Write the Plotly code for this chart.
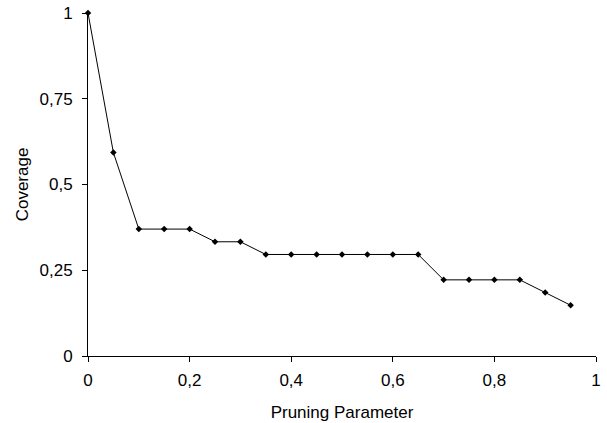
import plotly.graph_objects as go

pruning = [0.0, 0.05, 0.1, 0.15, 0.2, 0.25, 0.3, 0.35, 0.4, 0.45, 0.5,
           0.55, 0.6, 0.65, 0.7, 0.75, 0.8, 0.85, 0.9, 0.95]
coverage = [1.0, 0.593, 0.370, 0.370, 0.370, 0.333, 0.333, 0.296, 0.296, 0.296,
            0.296, 0.296, 0.296, 0.296, 0.222, 0.222, 0.222, 0.222, 0.185, 0.148]
x_ticks = [0, 0.2, 0.4, 0.6, 0.8, 1]
y_ticks = [0, 0.25, 0.5, 0.75, 1]

fig = go.Figure()
fig.add_trace(go.Scatter(
    x=pruning, y=coverage, mode="lines+markers",
    line=dict(color="black", width=1),
    marker=dict(symbol="diamond", size=5, color="black"),
    cliponaxis=False, showlegend=False,
))

font = dict(family="Liberation Sans, Arial, sans-serif", size=17, color="black")
fig.update_layout(
    width=607, height=423,
    margin=dict(l=88, r=11, t=13, b=67),
    paper_bgcolor="white", plot_bgcolor="white",
    separators=",.",
    font=font,
    xaxis=dict(
        range=[0, 1], tickvals=x_ticks, ticks="outside", ticklen=5,
        tickcolor="black", showline=True, linecolor="black", linewidth=1,
        showgrid=False, zeroline=False, automargin=False,
        ticklabelstandoff=4, ticklabeloverflow="allow",
        title=dict(text="Pruning Parameter", font=font, standoff=16),
    ),
    yaxis=dict(
        range=[0, 1], tickvals=y_ticks, ticks="outside", ticklen=5,
        tickcolor="black", showline=True, linecolor="black", linewidth=1,
        showgrid=False, zeroline=False, automargin=False,
        ticklabelstandoff=6, ticklabeloverflow="allow",
        title=dict(text="Coverage", font=font, standoff=6),
    ),
)
fig.write_html("out.html", config={"displayModeBar": False},
               post_script="document.body.style.margin='0';")
